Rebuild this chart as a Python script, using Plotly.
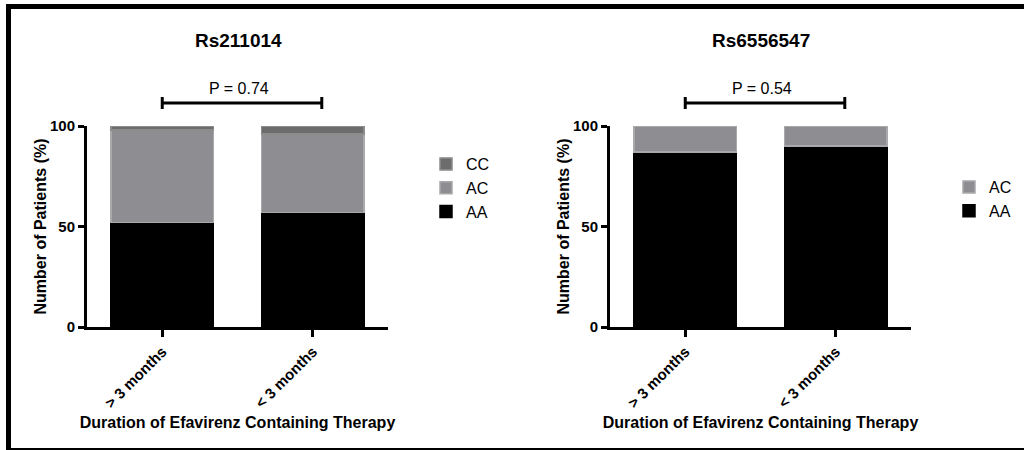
import plotly.graph_objects as go

# ---- data ----
categories = ["> 3 months", "< 3 months"]
panel_titles = ["Rs211014", "Rs6556547"]
p_values = ["P = 0.74", "P = 0.54"]

rs211014_AA = [52, 57]
rs211014_AC = [46, 39]
rs211014_CC = [2, 4]

rs6556547_AA = [87, 90]
rs6556547_AC = [13, 10]

y_ticks = [0, 50, 100]
x_title = "Duration of Efavirenz Containing Therapy"
y_title = "Number of Patients (%)"

# ---- style ----
FONT = "Liberation Sans, Arial, sans-serif"
W, H = 1024, 450
BAR_W = 0.684
col = {"AA": ("#000000", "#000000"), "AC": ("#8e8d92", "#a9a9ac"), "CC": ("#6c6c6c", "#8c8c8c")}
rank = {"CC": 1, "AC": 2, "AA": 3}

fig = go.Figure()

def add_bar(name, vals, xa, ya, legend):
    fill, line = col[name]
    fig.add_trace(go.Bar(
        x=list(range(len(categories))), y=vals, name=name,
        width=[BAR_W] * len(vals),
        marker=dict(color=fill, line=dict(color=line, width=1.5)),
        xaxis=xa, yaxis=ya, legend=legend, legendrank=rank[name],
        hoverinfo="skip",
    ))

add_bar("AA", rs211014_AA, "x", "y", "legend")
add_bar("AC", rs211014_AC, "x", "y", "legend")
add_bar("CC", rs211014_CC, "x", "y", "legend")
add_bar("AA", rs6556547_AA, "x2", "y2", "legend2")
add_bar("AC", rs6556547_AC, "x2", "y2", "legend2")

ydom = [1 - 327 / H, 1 - 126 / H]
xdoms = [[87 / W, 388 / W], [610 / W, 911 / W]]

def xaxis(dom, anchor):
    return dict(domain=dom, anchor=anchor, range=[-0.5, len(categories) - 0.5],
                tickvals=list(range(len(categories))), ticktext=categories,
                tickangle=-45, ticks="outside", ticklen=7, tickwidth=3, tickcolor="black",
                showline=True, linewidth=3, linecolor="black", showgrid=False, zeroline=False,
                tickfont=dict(family=FONT, size=15, color="black", weight="bold"),
                title=dict(text=x_title, standoff=7,
                           font=dict(family=FONT, size=16, color="black", weight="bold")),
                automargin=False, fixedrange=True)

def yaxis(anchor):
    return dict(domain=ydom, anchor=anchor, range=[0, 100], tickvals=y_ticks,
                ticks="outside", ticklen=6, tickwidth=3, tickcolor="black",
                showline=True, linewidth=3, linecolor="black", showgrid=False, zeroline=False,
                tickfont=dict(family=FONT, size=15, color="black", weight="bold"),
                title=dict(text=y_title, standoff=0,
                           font=dict(family=FONT, size=16, color="black", weight="bold")),
                automargin=False, fixedrange=True)

legend_common = dict(traceorder="normal", bgcolor="rgba(0,0,0,0)",
                     font=dict(family=FONT, size=16, color="black"), xanchor="left", yanchor="top",
                     itemclick=False, itemdoubleclick=False)

fig.update_layout(
    width=W, height=H, margin=dict(l=0, r=0, t=0, b=0, pad=0, autoexpand=False),
    paper_bgcolor="white", plot_bgcolor="white", barmode="stack", showlegend=True,
    xaxis=xaxis(xdoms[0], "y"), yaxis=yaxis("x"),
    xaxis2=xaxis(xdoms[1], "y2"), yaxis2=yaxis("x2"),
    legend=dict(x=426 / W, y=1 - 147 / H, **legend_common),
    legend2=dict(x=949 / W, y=1 - 170 / H, **legend_common),
)

annotations = []
shapes = []
for i, (title, p) in enumerate(zip(panel_titles, p_values)):
    xr = "x" if i == 0 else "x2"
    annotations.append(dict(text=f"<b>{title}</b>", x=(xdoms[i][0] * W + 151) / W, y=1 - 40 / H,
                            xref="paper", yref="paper", showarrow=False,
                            xanchor="center", yanchor="middle",
                            font=dict(family=FONT, size=19, color="black")))
    annotations.append(dict(text=p, x=0.51, y=1 - 88 / H, xref=xr, yref="paper", showarrow=False,
                            xanchor="center", yanchor="middle",
                            font=dict(family=FONT, size=16, color="black")))
    yb = 1 - 103 / H
    x0, x1 = 0.0, 1.06
    shapes.append(dict(type="line", x0=x0, x1=x1, y0=yb, y1=yb, xref=xr, yref="paper",
                       line=dict(color="black", width=3)))
    for xx in (x0, x1):
        shapes.append(dict(type="line", x0=xx, x1=xx, y0=yb - 6 / H, y1=yb + 6 / H, xref=xr, yref="paper",
                           line=dict(color="black", width=3)))

# outer frame (top, left, bottom)
shapes.append(dict(type="line", x0=6 / W, x1=1, y0=1 - 6.5 / H, y1=1 - 6.5 / H, xref="paper", yref="paper",
                   line=dict(color="black", width=5)))
shapes.append(dict(type="line", x0=8.5 / W, x1=8.5 / W, y0=1 - 4 / H, y1=0, xref="paper", yref="paper",
                   line=dict(color="black", width=5)))
shapes.append(dict(type="line", x0=6 / W, x1=1, y0=1 / H, y1=1 / H, xref="paper", yref="paper",
                   line=dict(color="black", width=2)))

fig.update_layout(annotations=annotations, shapes=shapes)
fig.write_html("out.html", config={"displayModeBar": False})
